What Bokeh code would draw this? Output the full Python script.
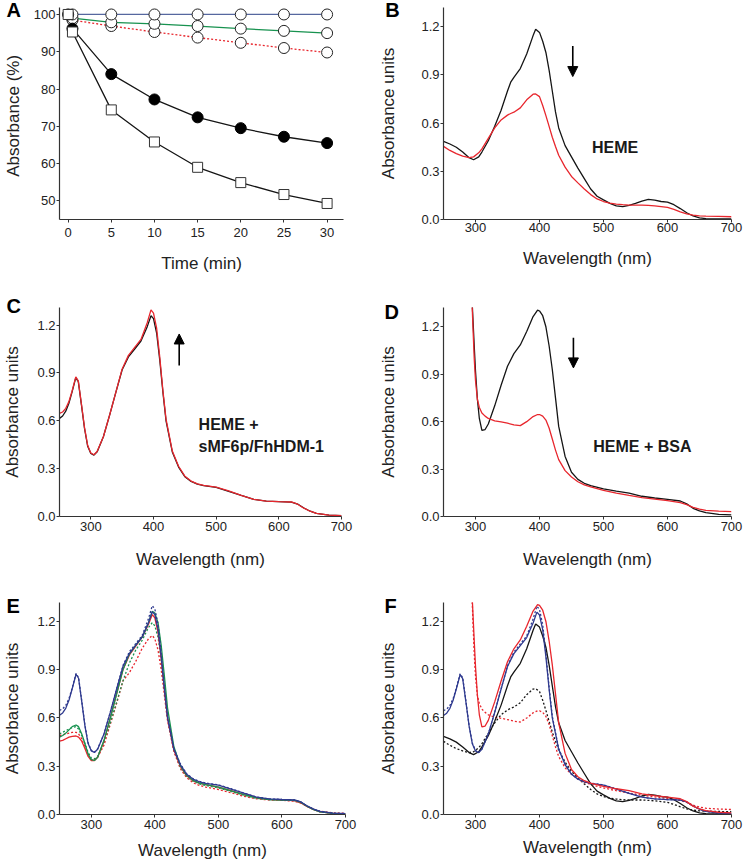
from bokeh.plotting import figure
from bokeh.layouts import column, row
from bokeh.models import Label, Arrow, NormalHead, Range1d, FixedTicker, PrintfTickFormatter
from bokeh.embed import file_html
from bokeh.resources import INLINE

FONT = "Liberation Sans"
BLACK = "#151515"
RED = "#e8262d"
BLUE = "#2f3a8f"
GREEN = "#17924f"
BLUE_A = "#56679f"

# ---------------- Panel A: absorbance (%) vs time ----------------
time_open = [0.5, 5, 10, 15, 20, 25, 30]
blue_open = [100, 100, 100, 100, 100, 100, 100]
green_open = [99.0, 97.9, 97.5, 96.9, 96.2, 95.6, 95.0]
red_open = [98.5, 96.9, 95.3, 93.8, 92.4, 91.0, 89.8]
time_decay = [0, 0.5, 5, 10, 15, 20, 25, 30]
filled_circles = [100, 96.2, 84.0, 77.2, 72.4, 69.5, 67.2, 65.5]
open_squares = [100, 95.3, 74.4, 65.8, 59.0, 54.9, 51.7, 49.3]
time_ticks = [0, 5, 10, 15, 20, 25, 30]
pct_ticks = [50, 60, 70, 80, 90, 100]

# ---------------- Panel B: HEME ----------------
B_nm = [250, 260, 270, 280, 290, 297, 305, 310, 320, 330, 340, 350, 355, 360, 370,
        380, 390, 394, 400, 405, 410, 415, 420, 425, 430, 440, 450, 460, 470, 480,
        490, 500, 510, 520, 530, 540, 550, 560, 570, 580, 590, 600, 610, 620, 630,
        640, 650, 660, 680, 700]
B_black = [0.486, 0.47, 0.45, 0.42, 0.385, 0.372, 0.39, 0.42, 0.49, 0.58,
           0.68, 0.8, 0.855, 0.885, 0.94, 1.03, 1.145, 1.185, 1.165, 1.11,
           1.04, 0.93, 0.8, 0.67, 0.57, 0.46, 0.39, 0.32, 0.255, 0.19,
           0.145, 0.122, 0.1, 0.085, 0.08, 0.088, 0.1, 0.115, 0.125, 0.12,
           0.112, 0.108, 0.092, 0.068, 0.042, 0.022, 0.01, 0.005, 0.003, 0.003]
B_red = [0.455, 0.43, 0.41, 0.395, 0.385, 0.39, 0.415, 0.44, 0.505, 0.57,
         0.62, 0.65, 0.66, 0.668, 0.695, 0.745, 0.78, 0.782, 0.765, 0.71,
         0.647, 0.58, 0.512, 0.455, 0.4, 0.326, 0.268, 0.228, 0.19, 0.155,
         0.128, 0.112, 0.102, 0.096, 0.092, 0.09, 0.09, 0.09, 0.088, 0.085,
         0.08, 0.075, 0.063, 0.048, 0.035, 0.027, 0.023, 0.021, 0.019, 0.017]

# ---------------- Panel C: HEME + sMF6p/FhHDM-1 ----------------
C_nm = [250, 255, 260, 265, 270, 276, 280, 285, 290, 295, 300, 305, 310, 320, 330,
        340, 350, 360, 370, 380, 390, 396, 400, 405, 410, 415, 420, 430, 440, 450,
        460, 470, 480, 500, 520, 540, 560, 580, 600, 620, 630, 640, 650, 660, 680, 700]
C_black = [0.615, 0.63, 0.66, 0.71, 0.78, 0.87, 0.845, 0.7, 0.55, 0.44,
           0.395, 0.385, 0.405, 0.5, 0.635, 0.78, 0.92, 1.0, 1.05, 1.1,
           1.19, 1.258, 1.24, 1.15, 0.98, 0.78, 0.6, 0.405, 0.31, 0.25,
           0.22, 0.203, 0.193, 0.182, 0.158, 0.132, 0.108, 0.097, 0.093, 0.09,
           0.078, 0.053, 0.033, 0.019, 0.008, 0.006]
C_red = [0.646, 0.655, 0.678, 0.72, 0.785, 0.875, 0.85, 0.705, 0.555, 0.445,
         0.398, 0.387, 0.407, 0.5, 0.636, 0.78, 0.925, 1.01, 1.06, 1.11,
         1.215, 1.295, 1.275, 1.18, 1.0, 0.79, 0.61, 0.41, 0.315, 0.253,
         0.222, 0.205, 0.195, 0.184, 0.16, 0.133, 0.108, 0.097, 0.093, 0.091,
         0.077, 0.052, 0.033, 0.019, 0.008, 0.006]

# ---------------- Panel D: HEME + BSA ----------------
D_nm = [294, 296, 298, 300, 303, 306, 310, 315, 320, 330, 340, 350, 360, 370, 380,
        390, 397, 400, 405, 410, 415, 420, 425, 430, 440, 450, 460, 470, 480, 500,
        520, 540, 560, 580, 600, 620, 630, 640, 650, 660, 680, 700]
D_black = [1.42, 1.25, 1.08, 0.92, 0.74, 0.62, 0.545, 0.55, 0.585, 0.7,
           0.83, 0.95, 1.03, 1.085, 1.17, 1.265, 1.305, 1.3, 1.27, 1.2,
           1.08, 0.93, 0.75, 0.57, 0.38, 0.28, 0.235, 0.21, 0.195, 0.175,
           0.16, 0.148, 0.128, 0.117, 0.108, 0.098, 0.08, 0.052, 0.035, 0.024,
           0.014, 0.01]
D_red = [1.42, 1.2, 1.0, 0.86, 0.74, 0.69, 0.655, 0.635, 0.62, 0.605,
         0.598, 0.59, 0.58, 0.575, 0.6, 0.632, 0.645, 0.645, 0.635, 0.61,
         0.56, 0.49, 0.42, 0.36, 0.29, 0.25, 0.22, 0.2, 0.187, 0.165,
         0.148, 0.133, 0.12, 0.11, 0.1, 0.088, 0.075, 0.058, 0.046, 0.039,
         0.034, 0.031]

# ---------------- Panel E (on C_nm grid) ----------------
E_green = [0.48, 0.49, 0.505, 0.525, 0.545, 0.555, 0.545, 0.5, 0.44, 0.375,
           0.34, 0.335, 0.355, 0.46, 0.6, 0.75, 0.9, 0.995, 1.05, 1.1,
           1.19, 1.26, 1.25, 1.19, 1.05, 0.86, 0.66, 0.42, 0.305, 0.243,
           0.212, 0.195, 0.185, 0.17, 0.147, 0.123, 0.103, 0.093, 0.09, 0.087,
           0.075, 0.05, 0.03, 0.017, 0.007, 0.005]
E_red = [0.455, 0.46, 0.47, 0.48, 0.485, 0.487, 0.48, 0.455, 0.41, 0.36,
         0.335, 0.335, 0.355, 0.455, 0.6, 0.75, 0.9, 0.99, 1.045, 1.1,
         1.18, 1.24, 1.22, 1.13, 0.97, 0.78, 0.6, 0.4, 0.3, 0.24,
         0.21, 0.195, 0.185, 0.17, 0.148, 0.124, 0.104, 0.094, 0.09, 0.086,
         0.072, 0.048, 0.03, 0.017, 0.007, 0.005]
E_green_dot = [0.5, 0.51, 0.52, 0.53, 0.54, 0.545, 0.53, 0.49, 0.44, 0.385,
               0.35, 0.345, 0.36, 0.45, 0.57, 0.7, 0.83, 0.94, 1.02, 1.08,
               1.16, 1.19, 1.17, 1.1, 0.96, 0.78, 0.6, 0.4, 0.295, 0.237,
               0.207, 0.19, 0.18, 0.165, 0.143, 0.12, 0.1, 0.092, 0.09, 0.086,
               0.073, 0.05, 0.03, 0.017, 0.007, 0.005]
E_red_dot = [0.49, 0.495, 0.5, 0.505, 0.51, 0.51, 0.5, 0.47, 0.42, 0.37,
             0.34, 0.34, 0.355, 0.43, 0.56, 0.69, 0.83, 0.88, 0.95, 1.03,
             1.09, 1.11, 1.09, 1.02, 0.9, 0.74, 0.58, 0.39, 0.285, 0.228,
             0.198, 0.18, 0.17, 0.155, 0.135, 0.113, 0.097, 0.09, 0.088, 0.082,
             0.07, 0.05, 0.032, 0.02, 0.01, 0.008]

nm_ticks = [300, 400, 500, 600, 700]
abs_ticks = [0.0, 0.3, 0.6, 0.9, 1.2]


def make_fig(width, height, xr, yr, bl, br, bt, bb):
    p = figure(width=width, height=height, x_range=Range1d(*xr), y_range=Range1d(*yr),
               output_backend="svg", toolbar_location=None,
               min_border_left=bl, min_border_right=br, min_border_top=bt, min_border_bottom=bb)
    p.outline_line_color = None
    p.grid.visible = False
    p.background_fill_color = "white"
    p.border_fill_color = "white"
    for ax in p.axis:
        ax.axis_line_color = "#333333"
        ax.axis_line_width = 1.2
        ax.major_tick_line_color = "#333333"
        ax.major_tick_line_width = 1
        ax.major_tick_in = 0
        ax.major_tick_out = 3
        ax.minor_tick_line_color = None
        ax.major_label_text_font = FONT
        ax.major_label_text_font_size = "13px"
        ax.major_label_text_color = "#222222"
        ax.axis_label_text_font = FONT
        ax.axis_label_text_font_size = "17px"
        ax.axis_label_text_font_style = "normal"
        ax.axis_label_text_color = "#222222"
    p.yaxis.major_label_standoff = 1
    return p


def letter(p, x, y, t):
    # placed in a side panel so that it is drawn outside the plotting frame
    p.add_layout(Label(x=x, y=y, text=t, text_font=FONT, text_font_size="20px",
                       text_font_style="bold", text_align="left", text_baseline="middle",
                       text_color="black"), "right")


def spectral(p, xstand, xlabstand, ystand):
    p.xaxis.ticker = FixedTicker(ticks=nm_ticks)
    p.yaxis.ticker = FixedTicker(ticks=abs_ticks)
    p.yaxis.formatter = PrintfTickFormatter(format="%.1f")
    p.xaxis.axis_label = "Wavelength (nm)"
    p.yaxis.axis_label = "Absorbance units"
    p.xaxis.major_label_standoff = xstand
    p.xaxis.axis_label_standoff = xlabstand
    p.yaxis.axis_label_standoff = ystand


def add_text(p, x, y, t):
    p.add_layout(Label(x=x, y=y, text=t, text_font=FONT, text_font_size="16px",
                       text_font_style="bold", text_align="left", text_baseline="middle",
                       text_color="#1a1a1a"))


def add_arrow(p, x, y0, y1):
    p.add_layout(Arrow(end=NormalHead(size=10, fill_color="black", line_color="black"),
                       x_start=x, y_start=y0, x_end=x, y_end=y1,
                       line_width=1.6, line_color="black"))


LW = 1.3

# ---- A ----
pA = make_fig(372, 290, (-1, 31.9), (45, 101.87), 54, 29, 7, 70)
pA.xaxis.ticker = FixedTicker(ticks=time_ticks)
pA.yaxis.ticker = FixedTicker(ticks=pct_ticks)
pA.xaxis.axis_label = "Time (min)"
pA.yaxis.axis_label = "Absorbance  (%)"
pA.xaxis.major_label_standoff = 5
pA.xaxis.axis_label_standoff = 14
pA.yaxis.axis_label_standoff = 8
pA.line(time_open, blue_open, line_color=BLUE_A, line_width=LW)
pA.line(time_open, green_open, line_color=GREEN, line_width=LW)
pA.line(time_open, red_open, line_color=RED, line_width=LW, line_dash="2 2")
pA.line(time_decay, filled_circles, line_color=BLACK, line_width=LW)
pA.line(time_decay, open_squares, line_color=BLACK, line_width=LW)
for ys in (red_open, green_open, blue_open):
    pA.scatter(time_open, ys, marker="circle", size=11, fill_color="white",
               line_color="#222222", line_width=1)
pA.scatter(time_decay, filled_circles, marker="circle", size=11, fill_color="black",
           line_color="black", line_width=1)
pA.scatter(time_decay, open_squares, marker="square", size=10, fill_color="white",
           line_color="#333333", line_width=1)
letter(pA, -7.15, 101.07, "A")

# ---- B ----
pB = make_fig(373, 290, (250, 700), (0, 1.32), 71, 11, 7, 71)
spectral(pB, 0, 14, 20)
pB.line(B_nm, B_black, line_color=BLACK, line_width=LW)
pB.line(B_nm, B_red, line_color=RED, line_width=LW)
add_arrow(pB, 452, 1.08, 0.89)
add_text(pB, 482, 0.446, "HEME")
letter(pB, 158.8, 1.3075, "B")

# ---- C ----
pC = make_fig(372, 285, (250, 700), (0, 1.31), 54, 31, 17, 58)
spectral(pC, 2, 16, 12)
pC.line(C_nm, C_black, line_color=BLACK, line_width=LW)
pC.line(C_nm, C_red, line_color=RED, line_width=LW)
add_arrow(pC, 441, 0.947, 1.144)
add_text(pC, 472, 0.578, "HEME +")
add_text(pC, 472, 0.439, "sMF6p/FhHDM-1")
letter(pC, 165.3, 1.319, "C")

# ---- D ----
pD = make_fig(373, 285, (250, 700), (0, 1.322), 71, 14, 13, 59)
spectral(pD, 2, 16, 20)
pD.line(D_nm, D_black, line_color=BLACK, line_width=LW)
pD.line(D_nm, D_red, line_color=RED, line_width=LW)
add_arrow(pD, 453, 1.13, 0.94)
add_text(pD, 484, 0.445, "HEME + BSA")
letter(pD, 157.8, 1.294, "D")

# ---- E ----
pE = make_fig(372, 288, (250, 700), (0, 1.315), 54, 27, 25, 49)
spectral(pE, 2, 9, 12)
pE.line(C_nm, E_red_dot, line_color=RED, line_width=LW, line_dash="2 2")
pE.line(C_nm, E_green_dot, line_color=GREEN, line_width=LW, line_dash="2 2")
pE.line(C_nm, E_red, line_color=RED, line_width=LW)
pE.line(C_nm, E_green, line_color=GREEN, line_width=LW)
pE.line(C_nm, C_red, line_color=BLUE, line_width=LW, line_dash="2 2")
pE.line(C_nm, C_black, line_color=BLUE, line_width=LW)
letter(pE, 166.5, 1.2935, "E")

# ---- F ----
pF = make_fig(373, 288, (250, 700), (0, 1.318), 71, 14, 27, 49)
spectral(pF, 2, 6, 20)
pF.line(B_nm, B_red, line_color=BLACK, line_width=LW, line_dash="2 2")
pF.line(D_nm, D_red, line_color=RED, line_width=LW, line_dash="2 2")
pF.line(C_nm, C_red, line_color=BLUE, line_width=LW, line_dash="2 2")
pF.line(B_nm, B_black, line_color=BLACK, line_width=LW)
pF.line(C_nm, C_black, line_color=BLUE, line_width=LW)
pF.line(D_nm, D_black, line_color=RED, line_width=LW)
letter(pF, 157.8, 1.299, "F")

layout = column(row(pA, pB), row(pC, pD), row(pE, pF))
open("out.html", "w").write(file_html(layout, INLINE))
